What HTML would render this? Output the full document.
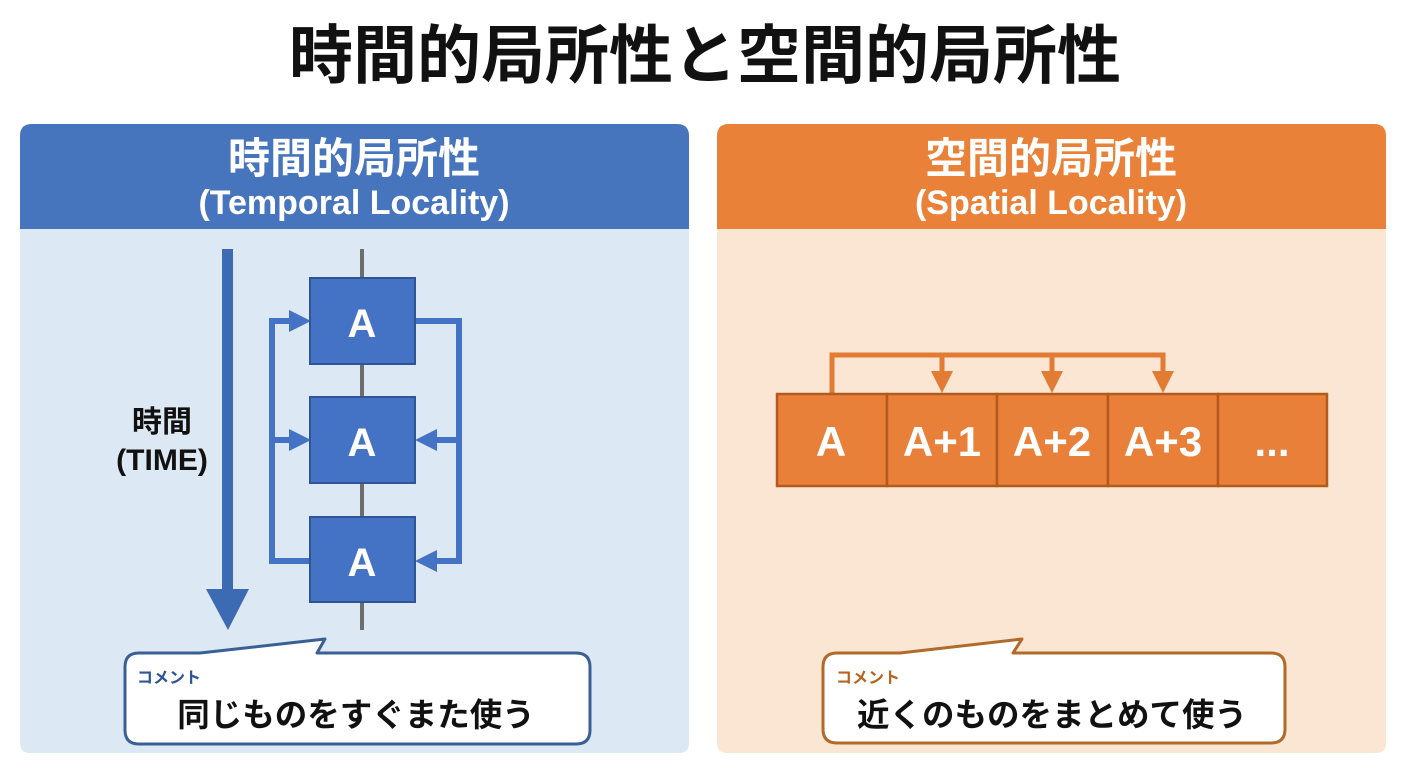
<!DOCTYPE html>
<html><head><meta charset="utf-8">
<style>
html,body{margin:0;padding:0;background:#fff;}
svg{display:block;}
.jp{font-family:"Liberation Sans","Noto Sans CJK JP",sans-serif;font-weight:700;}
.lt{font-family:"Liberation Sans","Noto Sans CJK JP",sans-serif;font-weight:700;}
</style></head>
<body>
<svg width="1408" height="768" viewBox="0 0 1408 768" xmlns="http://www.w3.org/2000/svg">
  <rect x="0" y="0" width="1408" height="768" fill="#ffffff"/>
  <!-- Title -->
  <text x="705" y="78" text-anchor="middle" class="jp" font-size="64" fill="#111">時間的局所性と空間的局所性</text>

  <!-- Left panel -->
  <path d="M20,136 Q20,124 32,124 L677,124 Q689,124 689,136 L689,743 Q689,753 679,753 L30,753 Q20,753 20,743 Z" fill="#dce8f3"/>
  <path d="M20,136 Q20,124 32,124 L677,124 Q689,124 689,136 L689,229 L20,229 Z" fill="#4674bd"/>
  <text x="354" y="173" text-anchor="middle" class="jp" font-size="42" fill="#fff">時間的局所性</text>
  <text x="354" y="214" text-anchor="middle" class="lt" font-size="34" fill="#fff">(Temporal Locality)</text>

  <!-- Time arrow -->
  <rect x="222" y="249" width="11" height="342" fill="#3d6bb3"/>
  <polygon points="206,589 249,589 228,630" fill="#3d6bb3"/>
  <text x="162" y="432" text-anchor="middle" class="jp" font-size="30" fill="#111">時間</text>
  <text x="162" y="470" text-anchor="middle" class="lt" font-size="30" fill="#111">(TIME)</text>

  <!-- gray line -->
  <rect x="360" y="249" width="4" height="381" fill="#6d6d6d"/>

  <!-- loop lines -->
  <g stroke="#4472c4" stroke-width="6" fill="none">
    <polyline points="292,321 272,321 272,561 310,561"/>
    <line x1="272" y1="440" x2="292" y2="440"/>
    <polyline points="415,321 459,321 459,561 433,561"/>
    <line x1="459" y1="440" x2="433" y2="440"/>
  </g>
  <g fill="#4472c4">
    <polygon points="289,310 311,321 289,332"/>
    <polygon points="289,429 311,440 289,451"/>
    <polygon points="437,429 415,440 437,451"/>
    <polygon points="437,550 415,561 437,572"/>
  </g>

  <!-- boxes -->
  <g fill="#4472c4" stroke="#2f5597" stroke-width="2">
    <rect x="310" y="278" width="105" height="86"/>
    <rect x="310" y="397" width="105" height="86"/>
    <rect x="310" y="517" width="105" height="85"/>
  </g>
  <g class="lt" font-size="40" fill="#fff" text-anchor="middle">
    <text x="362" y="337">A</text>
    <text x="362" y="456">A</text>
    <text x="362" y="576">A</text>
  </g>

  <!-- left callout -->
  <path d="M139,653 L200,653 L325,639 L317,653 L576,653 Q590,653 590,667 L590,730 Q590,744 576,744 L139,744 Q125,744 125,730 L125,667 Q125,653 139,653 Z" fill="#fff" stroke="#3a5f95" stroke-width="3" stroke-linejoin="round"/>
  <text x="137" y="683" class="jp" font-size="16" fill="#2f5597">コメント</text>
  <text x="356" y="726" text-anchor="middle" class="jp" font-size="32.5" fill="#111">同じものをすぐまた使う</text>

  <!-- Right panel -->
  <path d="M717,136 Q717,124 729,124 L1374,124 Q1386,124 1386,136 L1386,743 Q1386,753 1376,753 L727,753 Q717,753 717,743 Z" fill="#fbe5d3"/>
  <path d="M717,136 Q717,124 729,124 L1374,124 Q1386,124 1386,136 L1386,229 L717,229 Z" fill="#ea8139"/>
  <text x="1051" y="173" text-anchor="middle" class="jp" font-size="42" fill="#fff">空間的局所性</text>
  <text x="1051" y="214" text-anchor="middle" class="lt" font-size="34" fill="#fff">(Spatial Locality)</text>

  <!-- orange arrows -->
  <g stroke="#e27b33" stroke-width="5" fill="none">
    <polyline points="832,394 832,355 1163,355 1163,374"/>
    <line x1="942" y1="355" x2="942" y2="374"/>
    <line x1="1052" y1="355" x2="1052" y2="374"/>
  </g>
  <g fill="#e27b33">
    <polygon points="931,371 953,371 942,393"/>
    <polygon points="1041,371 1063,371 1052,393"/>
    <polygon points="1152,371 1174,371 1163,393"/>
  </g>

  <!-- cells -->
  <g fill="#e8803a" stroke="#b55a1e" stroke-width="2.5">
    <rect x="777" y="394" width="110" height="92"/>
    <rect x="887" y="394" width="110" height="92"/>
    <rect x="997" y="394" width="111" height="92"/>
    <rect x="1108" y="394" width="110" height="92"/>
    <rect x="1218" y="394" width="109" height="92"/>
  </g>
  <g class="lt" font-size="42" fill="#fff" text-anchor="middle">
    <text x="831" y="456">A</text>
    <text x="942" y="456">A+1</text>
    <text x="1052" y="456">A+2</text>
    <text x="1163" y="456">A+3</text>
    <text x="1272" y="456">...</text>
  </g>

  <!-- right callout -->
  <path d="M837,653 L900,653 L1022,639 L1013,653 L1271,653 Q1285,653 1285,667 L1285,729 Q1285,743 1271,743 L837,743 Q823,743 823,729 L823,667 Q823,653 837,653 Z" fill="#fff" stroke="#b06a2a" stroke-width="3" stroke-linejoin="round"/>
  <text x="836" y="683" class="jp" font-size="16" fill="#b5651d">コメント</text>
  <text x="1052" y="726" text-anchor="middle" class="jp" font-size="32.5" fill="#111">近くのものをまとめて使う</text>
</svg>
</body></html>
